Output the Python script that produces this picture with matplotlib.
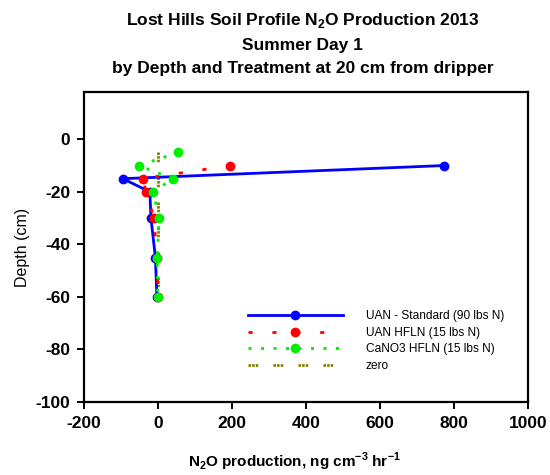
import matplotlib
matplotlib.use("Agg")
import matplotlib.pyplot as plt

plt.rcParams['font.family'] = ['Liberation Sans', 'DejaVu Sans']
plt.rcParams['mathtext.fontset'] = 'custom'
plt.rcParams['mathtext.rm'] = 'Liberation Sans'
plt.rcParams['mathtext.bf'] = 'Liberation Sans:bold'
plt.rcParams['axes.unicode_minus'] = False

# N2O production (ng cm-3 hr-1) by depth (cm)
uan_depth = [-10, -15, -20, -30, -45, -60]
uan_std = [772, -95, -22, -19, -7, -3]

hfln_depth = [-10, -15, -20, -30, -45, -60]
uan_hfln = [195, -41, -32, -11, -3, 0]

cano3_depth = [-5, -10, -15, -20, -30, -45, -60]
cano3_hfln = [55, -52, 41, -13, 3, -2, -1]

zero_depth = [-5, -10, -15, -20, -30, -45, -60]
zero = [0, 0, 0, 0, 0, 0, 0]

fig = plt.figure(figsize=(5.5, 4.75), dpi=100)
ax = fig.add_axes([0.1527, 0.1537, 0.8073, 0.6526])

ax.plot(uan_std, uan_depth, color='#0000ff', lw=2, marker='o', ms=6,
        label='UAN - Standard (90 lbs N)', zorder=3)
ax.plot(uan_hfln, hfln_depth, color='#ff0000', lw=2, marker='o', ms=6,
        dashes=(1.5, 7.1), label='UAN HFLN (15 lbs N)', zorder=4)
ax.plot(cano3_hfln, cano3_depth, color='#00ee00', lw=2, marker='o', ms=6,
        dashes=(1.1, 3.4), label='CaNO3 HFLN (15 lbs N)', zorder=5)
ax.plot(zero, zero_depth, color='#808000', lw=2,
        dashes=(0.9, 0.4, 0.9, 0.4, 0.9, 5.5), label='zero', zorder=2)

ax.set_xlim(-200, 1000)
ax.set_ylim(-100, 18)
ax.set_xticks([-200, 0, 200, 400, 600, 800, 1000])
ax.set_yticks([-100, -80, -60, -40, -20, 0])

for s in ax.spines.values():
    s.set_linewidth(1.6)
ax.tick_params(direction='out', length=5, width=1.4, labelsize=12.5, pad=5)
for lab in ax.get_xticklabels() + ax.get_yticklabels():
    lab.set_fontweight('bold')

ax.set_xlabel(r"N$_\mathbf{2}$O production, ng cm$^\mathbf{-3}$ hr$^\mathbf{-1}$",
              fontsize=11, fontweight='bold', labelpad=14, x=0.475)
ax.set_ylabel("Depth (cm)", fontsize=11.5, labelpad=4)

fig.text(0.55, 0.957, r"Lost Hills Soil Profile N$_\mathbf{2}$O Production 2013",
         ha='center', va='center', fontsize=12.5, fontweight='bold')
fig.text(0.55, 0.905, "Summer Day 1",
         ha='center', va='center', fontsize=12.5, fontweight='bold')
fig.text(0.55, 0.855, "by Depth and Treatment at 20 cm from dripper",
         ha='center', va='center', fontsize=12.5, fontweight='bold')

ax.legend(loc='upper left', bbox_to_anchor=(0.355, 0.315), frameon=False,
          fontsize=8.6, handlelength=8, numpoints=1, borderpad=0,
          labelspacing=0.38, handletextpad=1.9)

fig.savefig("out.png", dpi=100)
